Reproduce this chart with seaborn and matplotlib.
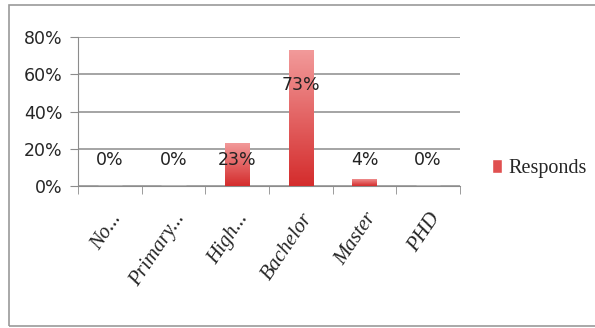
import numpy as np
import pandas as pd
import matplotlib
matplotlib.use("Agg")
import matplotlib.pyplot as plt
import seaborn as sns
from matplotlib import font_manager
import matplotlib.transforms as mtransforms
from matplotlib.colors import LinearSegmentedColormap
from matplotlib.patches import Rectangle

# datos del grafico
categorias = ["No...", "Primary...", "High...", "Bachelor", "Master", "PHD"]
valores = [0.0, 0.0, 0.23, 0.73, 0.04, 0.0]
etiquetas = ["0%", "0%", "23%", "73%", "4%", "0%"]
serie = "Responds"

df = pd.DataFrame({"nivel": categorias, "valor": valores})

nombres = {f.name for f in font_manager.fontManager.ttflist}
fuente_num = "Liberation Sans Narrow" if "Liberation Sans Narrow" in nombres else "DejaVu Sans"
fuente_txt = "Liberation Serif"

sns.set_style("white")
fig = plt.figure(figsize=(5.95, 3.28), dpi=100)
ax = fig.add_axes([0.131, 0.433, 0.642, 0.454])

sns.barplot(data=df, x="nivel", y="valor", color="#e05050", width=0.38, ax=ax,
            saturation=1, zorder=3)

# degradado en las barras (claro arriba, oscuro abajo)
cmap = LinearSegmentedColormap.from_list("rojo", ["#d42c2c", "#f29a9a"])
grad = np.linspace(0, 1, 256).reshape(-1, 1)
for barra in ax.patches:
    x0, y0 = barra.get_x(), barra.get_y()
    w, h = barra.get_width(), barra.get_height()
    if h <= 0:
        continue
    im = ax.imshow(grad, cmap=cmap, origin="lower", aspect="auto",
                   extent=[x0, x0 + w, y0, y0 + h], zorder=4)
    im.set_clip_path(barra)
    barra.set_facecolor("none")
    barra.set_edgecolor("none")

ax.set_xlim(-0.5, len(categorias) - 0.5)
ax.set_ylim(0, 0.8)
ax.set_yticks([0, 0.2, 0.4, 0.6, 0.8])
ax.set_yticklabels(["0%", "20%", "40%", "60%", "80%"], fontsize=12.5, family=fuente_num)
ax.yaxis.grid(True, color="#8c8c8c", linewidth=1.1, zorder=0)
ax.set_axisbelow(True)
ax.set_xlabel("")
ax.set_ylabel("")

# ticks del eje x entre categorias
ax.set_xticks(np.arange(len(categorias)))
ax.set_xticklabels(categorias, rotation=56, ha="right", rotation_mode="anchor",
                   fontsize=15, family=fuente_txt, style="italic")
desplaza = mtransforms.ScaledTranslation(7 / 100, 0, fig.dpi_scale_trans)
for lbl in ax.get_xticklabels():
    lbl.set_transform(lbl.get_transform() + desplaza)
ax.set_xticks(np.arange(len(categorias) + 1) - 0.5, minor=True)
ax.tick_params(axis="x", which="major", length=0, pad=17)
ax.tick_params(axis="x", which="minor", length=6, color="#8c8c8c", direction="out", bottom=True)
ax.tick_params(axis="y", length=6, color="#8c8c8c", direction="out", left=True, pad=5)

for lado in ["top", "right"]:
    ax.spines[lado].set_visible(False)
ax.spines["left"].set_color("#8c8c8c")
ax.spines["bottom"].set_color("#8c8c8c")

# etiquetas de datos
for i, (v, t) in enumerate(zip(valores, etiquetas)):
    ax.text(i, max(v - 0.19, 0.14), t, ha="center", va="center", fontsize=12.5,
            family=fuente_num, color="#222222", zorder=5)

# leyenda
ax.legend(handles=[Rectangle((0, 0), 1, 1, facecolor="#e05050")], labels=[serie],
          loc="center left", bbox_to_anchor=(1.085, 0.12), frameon=False,
          borderaxespad=0, borderpad=0,
          handlelength=0.5, handleheight=0.7, handletextpad=0.3,
          prop={"family": fuente_txt, "size": 14.5})

# marco exterior
fig.patches.append(Rectangle((9 / 595, 2 / 328), 600 / 595, 321 / 328,
                             transform=fig.transFigure, fill=False,
                             edgecolor="#9a9a9a", linewidth=1.2))

fig.savefig("out.png", dpi=100)
